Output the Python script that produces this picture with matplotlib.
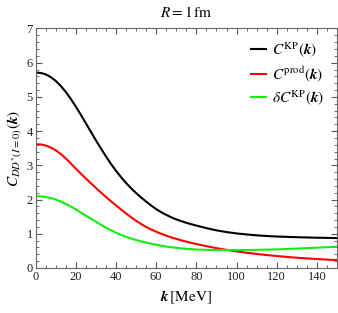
import matplotlib
matplotlib.use("Agg")
import matplotlib.pyplot as plt
from matplotlib.ticker import MultipleLocator

plt.rcParams['mathtext.fontset'] = 'stix'
plt.rcParams['font.family'] = ['Liberation Serif', 'DejaVu Serif']

k = [0, 2.5, 5, 7.5, 10, 12.5, 15, 17.5, 20, 22.5, 25, 27.5, 30, 32.5, 35, 37.5, 40,
     42.5, 45, 47.5, 50, 52.5, 55, 57.5, 60, 62.5, 65, 67.5, 70, 72.5, 75, 77.5, 80,
     85, 90, 95, 100, 105, 110, 115, 120, 125, 130, 135, 140, 145, 150]
c_kp = [5.71, 5.70, 5.66, 5.58, 5.465, 5.32, 5.145, 4.94, 4.715, 4.475, 4.228, 3.978,
        3.73, 3.49, 3.26, 3.04, 2.84, 2.655, 2.485, 2.33, 2.19, 2.06, 1.94, 1.825, 1.72,
        1.63, 1.552, 1.482, 1.42, 1.368, 1.321, 1.278, 1.24, 1.165, 1.10, 1.05, 1.01,
        0.98, 0.955, 0.935, 0.92, 0.91, 0.90, 0.892, 0.885, 0.88, 0.875]
c_prod = [3.62, 3.61, 3.58, 3.52, 3.44, 3.33, 3.20, 3.055, 2.90, 2.755, 2.615, 2.475,
          2.34, 2.205, 2.075, 1.95, 1.83, 1.71, 1.595, 1.485, 1.38, 1.285, 1.20, 1.125,
          1.06, 1.00, 0.945, 0.895, 0.85, 0.808, 0.77, 0.734, 0.70, 0.637, 0.58, 0.53,
          0.485, 0.445, 0.41, 0.378, 0.35, 0.324, 0.30, 0.28, 0.262, 0.245, 0.23]
dc_kp = [2.10, 2.095, 2.075, 2.045, 2.00, 1.94, 1.87, 1.795, 1.71, 1.62, 1.53, 1.44,
         1.35, 1.262, 1.179, 1.102, 1.032, 0.968, 0.912, 0.862, 0.818, 0.778, 0.742,
         0.708, 0.678, 0.651, 0.627, 0.607, 0.59, 0.574, 0.561, 0.55, 0.54, 0.531, 0.526,
         0.524, 0.524, 0.526, 0.53, 0.536, 0.544, 0.555, 0.567, 0.58, 0.594, 0.607, 0.62]

fig = plt.figure(figsize=(3.38, 3.13), dpi=100)
ax = fig.add_axes([0.1056, 0.1438, 0.8914, 0.7652])

ax.plot(k, c_kp, color='black', lw=1.5, label=r'$C^{\rm KP}(\boldsymbol{k})$')
ax.plot(k, c_prod, color='#ff0000', lw=1.5, label=r'$C^{\rm prod}(\boldsymbol{k})$')
ax.plot(k, dc_kp, color='#11ee11', lw=1.5, label=r'$\delta C^{\rm KP}(\boldsymbol{k})$')

ax.set_xlim(0, 150)
ax.set_ylim(0, 7)
ax.xaxis.set_major_locator(MultipleLocator(20))
ax.xaxis.set_minor_locator(MultipleLocator(5))
ax.yaxis.set_major_locator(MultipleLocator(1))
ax.yaxis.set_minor_locator(MultipleLocator(0.2))
ax.tick_params(which='both', direction='in', top=True, right=True, colors='#555555',
               labelcolor='#222222', labelsize=9, pad=2)
ax.tick_params(which='major', length=4)
ax.tick_params(which='minor', length=2)
for s in ax.spines.values():
    s.set_color('#666666')
    s.set_linewidth(0.8)

ax.set_xlabel(r'$\boldsymbol{k}\,[\mathrm{MeV}]$', fontsize=11, labelpad=4)
ax.set_ylabel(r'$C_{DD^{*}(I=0)}(\boldsymbol{k})$', fontsize=11, labelpad=2)
ax.set_title(r'$R = 1\,\mathrm{fm}$', fontsize=11, pad=8)

ax.legend(loc='upper right', frameon=False, fontsize=11, handlelength=1.0,
          handletextpad=0.35, labelspacing=0.3, borderaxespad=0.15,
          bbox_to_anchor=(0.985, 0.985))

fig.savefig('out.png', dpi=100)
